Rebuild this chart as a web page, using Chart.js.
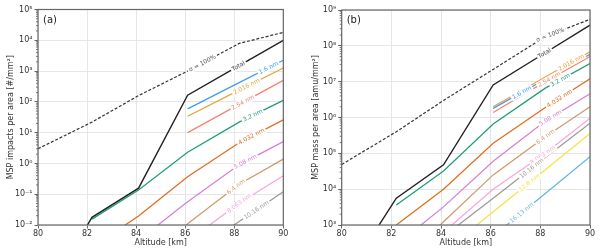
<!DOCTYPE html>
<html lang="en">
<head>
<meta charset="UTF-8">
<title>MSP impacts and mass per area</title>
<script src="https://cdn.jsdelivr.net/npm/chart.js"></script>
<style>
  body { margin: 0; background: #fff; }
  #wrap { position: relative; width: 600px; height: 251px; }
  .panel { position: absolute; top: 0; width: 300px; height: 251px; }
</style>
</head>
<body>
<div id="wrap">
  <div class="panel" style="left:0"><canvas id="chartA" width="300" height="251"></canvas></div>
  <div class="panel" style="left:300px"><canvas id="chartB" width="300" height="251"></canvas></div>
</div>
<script>
// altitude grid [km] shared by all curves
const altitude = [80, 82.2, 84.1, 86.1, 88.2, 90];

// (a) impacts per area [#/mm^2]
const sigmaA = [3.0, 22, 160, 1000, 7900, 18000];
const totalA = [1.8e-5, 0.0178, 0.157, 165, 1500, 10000];
const a1_6   = [null, null, null, 59, 420, 2240];
const a2_016 = [null, null, null, 34, 240, 1260];
const a2_54  = [null, null, null, 10, 83, 500];
const a3_2   = [null, 0.0155, 0.138, 2.3, 22, 112];
const a4_032 = [null, 0.0019, 0.0195, 0.37, 4.7, 26];
const a5_08  = [null, null, 0.0032, 0.057, 0.9, 5.1];
const a6_4   = [null, null, 0.0003, 0.011, 0.21, 1.38];
const a8_063 = [null, null, null, 0.003, 0.051, 0.4];
const a10_16 = [null, null, null, 0.001, 0.0129, 0.12];

// (b) mass per area [amu/mm^2]
const sigmaB = [4.9e4, 4.0e5, 3.0e6, 2.2e7, 1.8e8, 5.5e8];
const totalB = [24, 5600, 48000, 8.1e6, 6.4e7, 3.8e8];
const b1_6   = [null, null, null, 1.8e6, 1.17e7, 5.8e7];
const b2_016 = [null, null, null, 2.0e6, 1.35e7, 6.8e7];
const b2_54  = [null, null, null, 1.38e6, 1.0e7, 5.0e7];
const b3_2   = [null, 3600, 32000, 6.6e5, 6.6e6, 3.2e7];
const b4_032 = [null, 1000, 10000, 1.9e5, 1.9e6, 1.2e7];
const b5_08  = [null, 280, 3200, 6.0e4, 8.0e5, 4.6e6];
const b6_4   = [null, 70, 1230, 25000, 2.9e5, 2.0e6];
const b8_063 = [null, null, 630, 10000, 1.0e5, 9.5e5];
const b10_16 = [null, null, 480, 5600, 76000, 6.9e5];
const b12_8  = [null, null, 178, 2340, 35000, 3.6e5];
const b16_13 = [null, null, null, 490, 7600, 81000];

// where the inline labels sit along each curve [km]
const labelAtA = { sigma: 86.7, total: 88.17, '1.6': 89.4, '2.016': 88.5, '2.54': 88.35, '3.2': 88.75,
                   '4.032': 88.7, '5.08': 88.45, '6.4': 88.07, '8.063': 88.2, '10.16': 88.9 };
const labelAtB = { sigma: 88.4, total: 88.17, '1.6': 87.25, '2.016': 89.24, '2.54': 88.36, '3.2': 88.8,
                   '4.032': 88.77, '5.08': 88.4, '6.4': 88.2, '8.063': 88.1, '10.16': 87.65,
                   '12.8': 87.55, '16.13': 87.25 };

const colors = {
  '1.6': '#3d9df5', '2.016': '#eba13a', '2.54': '#f8826f', '3.2': '#1f9e78',
  '4.032': '#e06d1e', '5.08': '#d77fd6', '6.4': '#d09a6c', '8.063': '#fba3dc',
  '10.16': '#9a9a9a', '12.8': '#f2e444', '16.13': '#5fb5ee'
};

Chart.defaults.font.family = "'DejaVu Sans', sans-serif";
Chart.defaults.font.size = 8;
Chart.defaults.color = '#333';

const supDigits = { '0': '⁰', '1': '¹', '2': '²', '3': '³', '4': '⁴', '5': '⁵', '6': '⁶', '7': '⁷', '8': '⁸', '9': '⁹', '-': '⁻' };
function sci(v) {
  const e = String(Math.round(Math.log10(v)));
  return '10' + e.split('').map(c => supDigits[c]).join('');
}

function series(values, label, color, at, extra) {
  return Object.assign({
    data: altitude.map((a, i) => ({ x: a, y: values[i] })),
    inlineText: label, inlineAt: at,
    borderColor: color, borderWidth: 1.25, pointRadius: 0, fill: false, spanGaps: false
  }, extra || {});
}

function sizeSeries(list, at) {
  return list.map(([vals, size]) => series(vals, size + ' nm', colors[size], at[size]));
}

// point on a drawn curve at a given x pixel, plus its slope angle
function curveAt(meta, px) {
  const pts = meta.data;
  for (let i = 0; i < pts.length - 1; i++) {
    const p = pts[i], q = pts[i + 1];
    if (p.skip || q.skip) continue;
    if (px >= p.x && px <= q.x) {
      const t = (px - p.x) / (q.x - p.x);
      return { y: p.y + t * (q.y - p.y), ang: Math.atan2(q.y - p.y, q.x - p.x) };
    }
  }
  return null;
}

const decor = {
  id: 'decor',
  afterDatasetsDraw(chart) {
    const ctx = chart.ctx, xs = chart.scales.x, area = chart.chartArea;
    ctx.save();
    ctx.beginPath();
    ctx.rect(area.left, area.top, area.width, area.height);
    ctx.clip();
    ctx.font = "6px 'DejaVu Sans', sans-serif";
    ctx.textAlign = 'center';
    ctx.textBaseline = 'middle';
    chart.data.datasets.forEach((ds, i) => {
      if (!ds.inlineText) return;
      const px = xs.getPixelForValue(ds.inlineAt);
      const c = curveAt(chart.getDatasetMeta(i), px);
      if (!c) return;
      ctx.save();
      ctx.translate(px, c.y);
      ctx.rotate(c.ang);
      const w = ctx.measureText(ds.inlineText).width;
      ctx.fillStyle = '#fff';
      ctx.fillRect(-w / 2 - 1.5, -3.5, w + 3, 7);
      ctx.fillStyle = ds.textColor || ds.borderColor;
      ctx.fillText(ds.inlineText, 0, 0.3);
      ctx.restore();
    });
    ctx.restore();
  },
  afterDraw(chart, args, opts) {
    const ctx = chart.ctx, area = chart.chartArea, ys = chart.scales.y;
    ctx.save();
    // minor ticks on the log axis
    ctx.strokeStyle = '#555';
    ctx.lineWidth = 0.8;
    for (let d = ys.min; d < ys.max; d *= 10) {
      for (let k = 2; k <= 9; k++) {
        const py = ys.getPixelForValue(k * d);
        ctx.beginPath();
        ctx.moveTo(area.left - 2, py);
        ctx.lineTo(area.left, py);
        ctx.stroke();
      }
    }
    // frame
    ctx.strokeStyle = '#666';
    ctx.lineWidth = 1.2;
    ctx.strokeRect(area.left, area.top, area.width, area.height);
    // panel tag
    ctx.fillStyle = '#222';
    ctx.font = "10px 'DejaVu Sans', sans-serif";
    ctx.textAlign = 'left';
    ctx.textBaseline = 'alphabetic';
    ctx.fillText(opts.tag, area.left + 5, area.top + 13);
    ctx.restore();
  }
};

function makeOptions(cfg) {
  const decades = [];
  for (let v = cfg.ymin; v <= cfg.ymax * 1.0001; v *= 10) decades.push(v);
  return {
    responsive: false,
    animation: false,
    layout: { padding: cfg.pad },
    plugins: { legend: { display: false }, tooltip: { enabled: false }, decor: { tag: cfg.tag } },
    scales: {
      x: {
        type: 'linear', min: 80, max: 90,
        ticks: { stepSize: 2, padding: 1, maxRotation: 0, color: '#333' },
        grid: { color: '#e3e3e3', lineWidth: 0.9, tickColor: '#555', tickLength: 3.5 },
        border: { display: false },
        title: { display: true, text: 'Altitude [km]', color: '#333', padding: { top: 0, bottom: 3 } },
        afterFit: s => { s.height = cfg.xH; }
      },
      y: {
        type: 'logarithmic', min: cfg.ymin, max: cfg.ymax,
        afterBuildTicks: s => { s.ticks = decades.map(v => ({ value: v, major: true })); },
        ticks: { autoSkip: false, padding: 2, color: '#333', callback: v => sci(v) },
        grid: { color: '#e3e3e3', lineWidth: 0.9, tickColor: '#555', tickLength: 3.5 },
        border: { display: false },
        title: { display: true, text: cfg.ytitle, color: '#333', padding: { top: cfg.titlePad, bottom: 0 } },
        afterFit: s => { s.width = cfg.yW; }
      }
    }
  };
}

const dsA = [
  series(sigmaA, 'σ = 100%', '#333', labelAtA.sigma, { borderDash: [3, 1.8], borderWidth: 1.2, textColor: '#555' }),
  series(totalA, 'Total', '#222', labelAtA.total, { borderWidth: 1.4, textColor: '#444' })
].concat(sizeSeries([
  [a1_6, '1.6'], [a2_016, '2.016'], [a2_54, '2.54'], [a3_2, '3.2'], [a4_032, '4.032'],
  [a5_08, '5.08'], [a6_4, '6.4'], [a8_063, '8.063'], [a10_16, '10.16']
], labelAtA));

const dsB = [
  series(sigmaB, 'σ = 100%', '#333', labelAtB.sigma, { borderDash: [3, 1.8], borderWidth: 1.2, textColor: '#555' }),
  series(totalB, 'Total', '#222', labelAtB.total, { borderWidth: 1.4, textColor: '#444' })
].concat(sizeSeries([
  [b1_6, '1.6'], [b2_016, '2.016'], [b2_54, '2.54'], [b3_2, '3.2'], [b4_032, '4.032'],
  [b5_08, '5.08'], [b6_4, '6.4'], [b8_063, '8.063'], [b10_16, '10.16'], [b12_8, '12.8'], [b16_13, '16.13']
], labelAtB));

new Chart(document.getElementById('chartA'), {
  type: 'line',
  data: { datasets: dsA },
  options: makeOptions({ tag: '(a)', ymin: 1e-2, ymax: 1e5, yW: 38, xH: 26, titlePad: 6,
    ytitle: 'MSP impacts per area [#/mm²]', pad: { left: 0, top: 9.5, right: 16.7, bottom: 0 } }),
  plugins: [decor]
});

new Chart(document.getElementById('chartB'), {
  type: 'line',
  data: { datasets: dsB },
  options: makeOptions({ tag: '(b)', ymin: 1e3, ymax: 1e9, yW: 41.7, xH: 26, titlePad: 11,
    ytitle: 'MSP mass per area [amu/mm²]', pad: { left: 0, top: 10, right: 10, bottom: 0 } }),
  plugins: [decor]
});
</script>
</body>
</html>
